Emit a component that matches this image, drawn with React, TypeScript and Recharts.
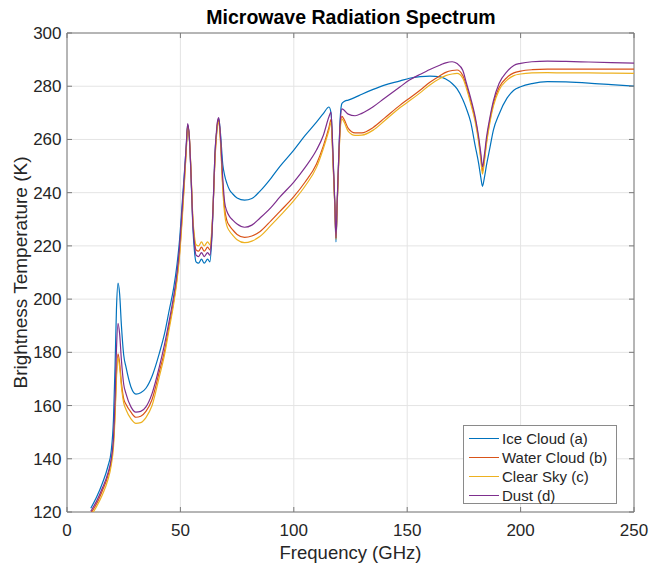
import React from "react";
import {
  LineChart,
  Line,
  XAxis,
  YAxis,
  CartesianGrid,
  Legend,
  ReferenceArea
} from "recharts";

// frequency grid (GHz), denser around the absorption lines
const freqs = [
  10.5, 13, 15.6, 18, 19.5, 20.5, 21.2, 21.8, 22.5, 23.2,
  24, 25, 26, 28.2, 30.4, 32.5, 34.8, 37.5, 40.7, 43,
  45.1, 47, 48.5, 49.6, 50.8, 51.8, 52.6, 53.2, 53.9, 54.7,
  55.4, 56.2, 56.9, 58, 59.3, 60.5, 62, 63, 63.8, 64.5,
  65.2, 65.9, 66.4, 66.9, 67.6, 68.7, 69.5, 70.5, 71.7, 73.1,
  75, 78.3, 81.5, 85, 90, 93.8, 100, 105, 110, 113,
  115.5, 116.4, 117.3, 118.1, 118.6, 119.1, 119.8, 120.5, 121.2, 122.2,
  124, 127, 130, 135, 140, 146.9, 151, 155.8, 160, 164.6,
  167, 169.8, 172, 174.5, 176, 178, 180, 181.5, 182.5, 183.2,
  184, 185, 186.5, 188, 190.5, 194, 197, 200, 205, 211.8,
  220, 230, 240, 250
];

// brightness temperatures (K)
const iceCloud = [
  121.4, 125.5, 130.8, 137, 143, 155, 175, 196, 206, 202,
  190, 179, 174.5, 167, 164.3, 164.8, 166.5, 171, 179.6, 187,
  196, 204, 213, 222, 236, 248, 258, 265.5, 261, 246,
  229, 218, 214, 213.5, 215, 213.5, 215, 214, 222, 236,
  254, 262, 266, 267.8, 263, 250.5, 246.5, 243.5, 241, 239.5,
  238, 237.2, 237.8, 240.5, 245.5, 249.8, 256, 261.5, 266.5, 269.7,
  272.2, 270, 253, 235, 221.5, 235, 253, 268.5, 273.5, 274.3,
  274.8, 275.8, 277, 278.8, 280.4, 282, 283, 283.6, 283.8, 283.5,
  282.7, 281, 279, 275, 271.8, 266.5, 257.5, 251, 245.5, 242.4,
  245.5, 250.5, 257, 263.5, 269.5, 275.5, 278.5, 279.8, 281, 281.7,
  281.6, 281.2, 280.6, 280
];

const waterCloud = [
  119.6, 123, 128, 133.5, 139, 146.5, 158, 172, 179.4, 176,
  168.5, 162.5, 160.5, 157.5, 155.6, 156, 157.8, 162.3, 172.7, 180.5,
  190.3, 199, 208, 217, 231.5, 245, 256.5, 265.2, 261.5, 247,
  231, 222, 218.5, 218, 219.5, 218, 219.5, 218.5, 224, 236,
  252, 262, 266.5, 267.5, 261, 242.5, 234, 229.5, 227.5, 226,
  224.3, 223.2, 223.7, 225.3, 229.5, 232.9, 238.5, 244, 250.8, 257.5,
  264.5, 267.5, 252, 235, 223, 235, 252, 265, 268.7, 267.5,
  264.2, 262.5, 262.5, 264.5, 268, 272.9, 275.5, 278.6, 281.5, 284,
  285.2, 285.9, 286.1, 284, 280.5, 274.5, 267.5, 260, 253, 248,
  252.5, 259.5, 267.5, 273.5, 279.5, 283.3, 285, 285.7, 286.2, 286.4,
  286.4, 286.4, 286.4, 286.4
];

const clearSky = [
  118.6, 122, 126.5, 132, 137.5, 144.5, 156, 170, 177.9, 174.5,
  167, 161, 158.5, 155, 153.3, 153.6, 155.5, 160, 170.8, 179,
  189, 198, 207, 216, 230, 244, 256, 264.2, 261, 248,
  232, 223.5, 220.5, 220, 221.5, 220, 221.5, 220.5, 225.5, 237,
  251.5, 261, 265.5, 266.5, 260, 241, 232, 227.5, 225.5, 224,
  222.3, 221.2, 221.8, 223.5, 227.8, 231.2, 237, 242.5, 249.5, 256.5,
  263.5, 266.5, 251, 234.5, 222.5, 234.5, 251, 264, 267.7, 266.5,
  263, 261.5, 261.6, 263.5, 267, 272, 274.5, 277.6, 280.5, 283,
  284, 284.6, 284.8, 283, 279.5, 273.5, 266.5, 259, 252, 247,
  251.5, 258.5, 266.5, 272.5, 278.5, 282.3, 284, 284.6, 285, 285.1,
  285, 285, 284.9, 284.8
];

const dust = [
  120.3, 124, 129, 134.5, 140, 148, 163, 181, 190.9, 187,
  177, 168, 164.5, 159.5, 157.5, 157.8, 159.5, 164.5, 174.5, 183,
  192, 201, 210, 219.5, 234, 247, 258, 266, 261.5, 246.5,
  230, 220.5, 216.5, 216, 217.5, 216, 217.5, 216.5, 223, 237,
  254, 263, 267, 268.2, 262, 245, 236.5, 233, 231, 229.7,
  228.2, 227, 227.8, 230.4, 234.5, 238.3, 244, 249.5, 256, 261.5,
  268.5, 270.3, 254, 236, 223, 236, 253, 267, 271.5, 271,
  269.5, 268.9, 269.8, 272.3, 275.5, 279.8, 282.3, 284.5, 286.3, 288,
  288.8, 289.2, 288.5, 286, 281.5, 275.5, 268.4, 261, 254.5, 249.7,
  254, 261, 268.4, 274.5, 281, 285.5, 287.8, 288.6, 289.2, 289.4,
  289.3, 289.1, 288.9, 288.7
];

const seriesNames = ["Ice Cloud (a)", "Water Cloud (b)", "Clear Sky (c)", "Dust (d)"];
const seriesColors = ["#0072BD", "#D95319", "#EDB120", "#7E2F8E"];
const seriesKeys = ["ice", "water", "clear", "dust"];

const xTicks = [0, 50, 100, 150, 200, 250];
const yTicks = [120, 140, 160, 180, 200, 220, 240, 260, 280, 300];

const data = freqs.map((f, i) => ({
  f,
  ice: iceCloud[i],
  water: waterCloud[i],
  clear: clearSky[i],
  dust: dust[i]
}));

// plot box (px)
const W = 649;
const H = 564;
const L = 67;
const R = 634;
const T = 33;
const B = 512;
const FONT = '"Liberation Sans", Arial, Helvetica, sans-serif';
const AXIS = "#7a7a7a";
const TEXT = "#262626";

const YTick = (props: any) => {
  const { y, payload } = props;
  return (
    <g>
      <line x1={L} x2={L + 5} y1={y} y2={y} stroke={AXIS} />
      <line x1={R - 5} x2={R} y1={y} y2={y} stroke={AXIS} />
      <text x={L - 5.5} y={y} dy={6} textAnchor="end" fontSize={17} fontFamily={FONT} fill={TEXT}>
        {payload.value}
      </text>
    </g>
  );
};

const XTick = (props: any) => {
  const { x, payload } = props;
  return (
    <g>
      <line x1={x} x2={x} y1={B} y2={B - 5} stroke={AXIS} />
      <line x1={x} x2={x} y1={T} y2={T + 5} stroke={AXIS} />
      <text x={x} y={535.5} textAnchor="middle" fontSize={17} fontFamily={FONT} fill={TEXT}>
        {payload.value}
      </text>
    </g>
  );
};

// legend keeps the plotting order of the series
const renderLegend = () => (
  <div
    style={{
      width: 154,
      height: 79,
      boxSizing: "border-box",
      border: "1px solid #8a8a8a",
      background: "#fff",
      padding: "3px 0 0 5px",
      fontFamily: FONT,
      fontSize: 15,
      color: TEXT
    }}
  >
    {seriesNames.map((name, i) => (
      <div key={name} style={{ display: "flex", alignItems: "center", height: 19 }}>
        <div style={{ width: 30, height: 1, background: seriesColors[i], marginRight: 3, flexShrink: 0 }} />
        <span style={{ lineHeight: "18px" }}>{name}</span>
      </div>
    ))}
  </div>
);

export default function App() {
  return (
    <div style={{ position: "absolute", left: 0, top: 0, width: W, height: H, background: "#fff" }}>
      <div
        style={{
          position: "absolute",
          left: 0,
          width: W,
          top: 6,
          textAlign: "center",
          paddingLeft: 53,
          boxSizing: "border-box",
          fontFamily: FONT,
          fontWeight: "bold",
          fontSize: 19.5,
          color: "#000"
        }}
      >
        Microwave Radiation Spectrum
      </div>
      <LineChart
        width={W}
        height={H}
        data={data}
        margin={{ top: T, right: W - R, bottom: 0, left: 0 }}
      >
        <CartesianGrid stroke="#e4e4e4" />
        <XAxis
          dataKey="f"
          type="number"
          domain={[0, 250]}
          ticks={xTicks}
          height={H - B}
          axisLine={false}
          tickLine={false}
          tick={<XTick />}
          label={{
            content: () => (
              <text x={(L + R) / 2} y={558.5} textAnchor="middle" fontSize={18.5} fontFamily={FONT} fill={TEXT}>
                Frequency (GHz)
              </text>
            )
          }}
        />
        <YAxis
          type="number"
          domain={[120, 300]}
          allowDataOverflow
          ticks={yTicks}
          width={L}
          axisLine={false}
          tickLine={false}
          tick={<YTick />}
          label={{
            content: () => (
              <text
                x={27}
                y={(T + B) / 2}
                transform={`rotate(-90, 27, ${(T + B) / 2})`}
                textAnchor="middle"
                fontSize={19}
                fontFamily={FONT}
                fill={TEXT}
              >
                Brightness Temperature (K)
              </text>
            )
          }}
        />
        <ReferenceArea x1={0} x2={250} y1={120} y2={300} fill="none" stroke={AXIS} strokeWidth={1} />
        {seriesKeys.map((k, i) => (
          <Line
            key={k}
            type="monotone"
            dataKey={k}
            name={seriesNames[i]}
            stroke={seriesColors[i]}
            strokeWidth={1.2}
            dot={false}
            isAnimationActive={false}
          />
        ))}
        <Legend
          layout="vertical"
          align="center"
          verticalAlign="middle"
          content={renderLegend}
          wrapperStyle={{ left: 463, top: 425, width: 154, height: 79 }}
        />
      </LineChart>
    </div>
  );
}
